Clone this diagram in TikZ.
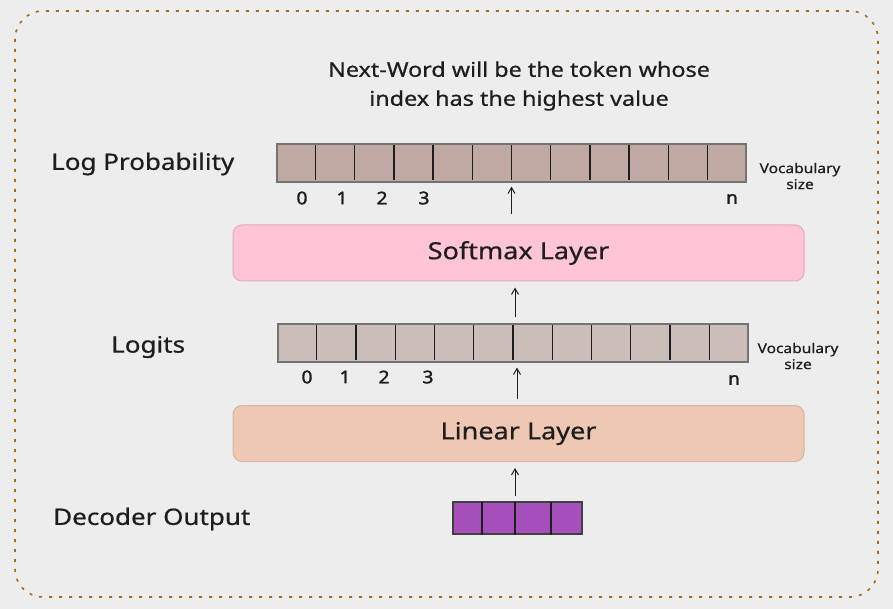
\documentclass[tikz,border=0pt]{standalone}
\usepackage{fontspec}
\setmainfont[FakeStretch=1.15,FakeBold=0.6]{Noto Sans}
\newfontfamily\numfont[FakeStretch=1.1,FakeBold=1.8]{Noto Sans}
\usetikzlibrary{arrows.meta,calc}
\definecolor{bg}{HTML}{EDEDED}
\definecolor{bordc}{HTML}{A86A14}
\definecolor{lpc}{HTML}{BFA9A2}
\definecolor{lgc}{HTML}{CBBDB8}
\definecolor{smc}{HTML}{FFC4D6}
\definecolor{smd}{HTML}{E2AABB}
\definecolor{llc}{HTML}{EEC8B3}
\definecolor{lld}{HTML}{D9B3A1}
\definecolor{decc}{HTML}{A64FBC}
\definecolor{txt}{HTML}{1E1E1E}
\tikzset{
  bar/.style={draw=black!55, line width=1.2pt, minimum height=38pt, inner sep=0pt},
  div/.style={draw=txt, line width=1.3pt},
  layer/.style={rounded corners=9pt, line width=1pt, minimum width=571pt, minimum height=56pt, inner sep=0pt, font=\fontsize{23.5}{28}\selectfont, text=txt},
  lbl/.style={font=\fontsize{22.6}{27}\selectfont, text=txt, inner sep=0pt},
  num/.style={font=\numfont\fontsize{17.5}{20}\selectfont, text=txt, inner sep=0pt},
  voc/.style={font=\fontsize{13.5}{16}\selectfont, text=txt, align=center, inner sep=0pt},
  arr/.style={-{Straight Barb[length=6pt,width=7pt]}, line width=1pt, draw=txt},
  border/.style={draw=bordc, line width=1.6pt, dash pattern=on 3pt off 7pt, rounded corners=28pt}
}
\begin{document}
\begin{tikzpicture}[x=1pt,y=-1pt]
\useasboundingbox[fill=bg] (0,0) rectangle (893,609);
\draw[border] (15,11) rectangle (878,597);

% title
\node[lbl, align=center, font=\fontsize{20.3}{29}\selectfont] (title) at (519,86) {Next-Word will be the token whose\\index has the highest value};

% log probability bar
\node[bar, fill=lpc, minimum width=469pt] (lp) at (511.5,163) {};
\foreach \i in {1,...,11}
  \draw[div] ($(lp.north west)!\i/12!(lp.north east)+(0,1.5)$) -- ($(lp.south west)!\i/12!(lp.south east)+(0,-2.5)$);
\node[lbl, anchor=west] (lplab) at (51,164) {Log Probability};
\node[voc] (v1) at (800,176) {Vocabulary\\size};
\node[num] (l0) at (302,198) {0};
\node[num] (l1) at (342,198) {1};
\node[num] (l2) at (382,198) {2};
\node[num] (l3) at (424,198) {3};
\node[num] (ln) at (732,199) {n};

% softmax
\node[layer, draw=smd, fill=smc] (sm) at (518.5,253) {Softmax Layer};

% logits bar
\node[bar, fill=lgc, minimum width=470pt] (lg) at (513,343) {};
\foreach \i in {1,...,11}
  \draw[div] ($(lg.north west)!\i/12!(lg.north east)+(0,1.5)$) -- ($(lg.south west)!\i/12!(lg.south east)+(0,-2.5)$);
\node[lbl, anchor=west] (lglab) at (111,347) {Logits};
\node[voc] (v2) at (798,356) {Vocabulary\\size};
\node[num] (g0) at (307,377) {0};
\node[num] (g1) at (345,377) {1};
\node[num] (g2) at (384,377) {2};
\node[num] (g3) at (428,377) {3};
\node[num] (gn) at (734,380) {n};

% linear
\node[layer, draw=lld, fill=llc] (ll) at (518.5,433.5) {Linear Layer};

% decoder output
\node[draw=black!75, line width=1.2pt, fill=decc, minimum width=129pt, minimum height=32pt, inner sep=0pt] (dec) at (517.5,518) {};
\foreach \xx in {482,515,551}
  \draw[div] (\xx,502) -- (\xx,535);
\node[lbl, anchor=west] (declab) at (53,519) {Decoder Output};

% arrows
\draw[arr, shorten <=10pt, shorten >=4pt] (sm.north -| lp.south) -- (lp.south);
\draw[arr, shorten <=6pt, shorten >=6pt] (lg.north -| 515,0) -- (sm.south -| 515,0);
\draw[arr, shorten <=6pt, shorten >=5pt] (ll.north -| 517,0) -- (lg.south -| 517,0);
\draw[arr, shorten <=5pt, shorten >=6pt] (dec.north -| 515,0) -- (ll.south -| 515,0);
\end{tikzpicture}
\end{document}
